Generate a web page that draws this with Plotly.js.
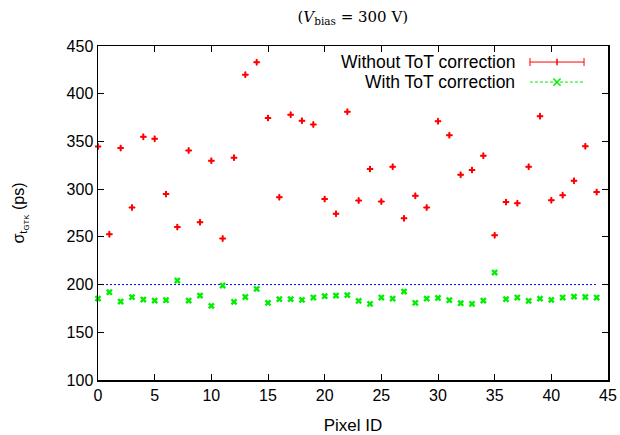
<!DOCTYPE html>
<html>
<head>
<meta charset="utf-8">
<script src="https://cdn.plot.ly/plotly-3.0.1.min.js"></script>
<style>html,body{margin:0;padding:0;background:#fff;}#chart{width:620px;height:435px;}</style>
</head>
<body>
<div id="chart"></div>
<script>
var pixelId = [0,1,2,3,4,5,6,7,8,9,10,11,12,13,14,15,16,17,18,19,20,21,22,23,24,25,26,27,28,29,30,31,32,33,34,35,36,37,38,39,40,41,42,43,44];
var withoutToT = [344.6,252.8,343,280.7,354.8,352.7,294.8,260.2,340.5,265.4,329.7,248.2,333,420,433,374.5,291.6,378,371.6,367.7,289.6,274.1,381,288,321,287,323.4,269.4,293,280.7,371.2,356.6,315,320,335,251.7,286.4,285.3,323.4,376.5,288.4,293.7,308.7,345,296.9];
var withToT = [185.3,192,182.2,186.8,184.3,183.2,183.6,204.2,183.2,188.5,177.7,199,181.9,187,195.5,180.8,184.7,184.7,184,186.4,187.8,188.5,188.9,182.9,179.8,186.4,185.3,192.7,180.8,185.3,186,183.6,180.5,179.8,183.2,212.6,184.7,186.4,182.9,185.3,184,186.4,187.4,187,186.4];
var refX = [0,44];
var refY = [200,200];
var xTicks = [0,5,10,15,20,25,30,35,40,45];
var yTicks = [100,150,200,250,300,350,400,450];
var legendLabels = ['Without ToT correction','With ToT correction'];

var font = '"Liberation Sans", Arial, sans-serif';

var traces = [
  {x: refX, y: refY, mode: 'lines', line: {color: '#0000ff', width: 1, dash: '2px,2px'}, showlegend: false, hoverinfo: 'skip'},
  {x: pixelId, y: withoutToT, mode: 'markers', marker: {symbol: 'cross', size: 5, color: '#ff0000'},
   error_y: {type: 'constant', value: 3.5, color: '#ff0000', thickness: 1, width: 0},
   error_x: {type: 'constant', value: 0.3, color: '#ff0000', thickness: 1, width: 0},
   showlegend: false, cliponaxis: false},
  {x: pixelId, y: withToT, mode: 'markers', marker: {symbol: 'x', size: 6, color: '#00ee00'}, showlegend: false, cliponaxis: false}
];

var L = 0.847, R = 0.953, M = 0.9, y1 = 0.952, y2 = 0.892;
var shapes = [
  {type:'line', xref:'paper', yref:'paper', x0:L, x1:R, y0:y1, y1:y1, line:{color:'#ff0000', width:1}},
  {type:'line', xref:'paper', yref:'paper', x0:L, x1:L, y0:y1-0.012, y1:y1+0.012, line:{color:'#ff0000', width:1}},
  {type:'line', xref:'paper', yref:'paper', x0:R, x1:R, y0:y1-0.012, y1:y1+0.012, line:{color:'#ff0000', width:1}},
  {type:'line', xref:'paper', yref:'paper', x0:M, x1:M, y0:y1-0.01, y1:y1+0.01, line:{color:'#ff0000', width:1.5}},
  {type:'line', xref:'paper', yref:'paper', x0:L, x1:R, y0:y2, y1:y2, line:{color:'#00ee00', width:1, dash:'3px,2px'}},
  {type:'line', xref:'paper', yref:'paper', x0:M-0.007, x1:M+0.007, y0:y2-0.011, y1:y2+0.011, line:{color:'#00ee00', width:1.5}},
  {type:'line', xref:'paper', yref:'paper', x0:M-0.007, x1:M+0.007, y0:y2+0.011, y1:y2-0.011, line:{color:'#00ee00', width:1.5}}
];

var layout = {
  width: 620, height: 435,
  margin: {l: 98, r: 12, t: 46, b: 55},
  paper_bgcolor: '#fff', plot_bgcolor: '#fff',
  font: {family: font, size: 16, color: '#000'},
  title: {text: '(<i>V</i><sub>bias</sub> = 300 V)', font: {family: '"DejaVu Serif", "Liberation Serif", serif', size: 15}, x: 0.569, xanchor: 'center', y: 0.962, yanchor: 'middle'},
  xaxis: {range: [0,45], tickvals: xTicks, ticktext: xTicks.map(String), ticks: 'inside', ticklen: 6, tickwidth: 1, tickcolor: '#000',
          showline: true, linecolor: '#000', linewidth: 1.5, mirror: 'ticks', showgrid: false, zeroline: false,
          title: {text: 'Pixel ID', font: {size: 17}, standoff: 20}},
  yaxis: {range: [100,450], tickvals: yTicks, ticktext: yTicks.map(String), ticks: 'inside', ticklen: 6, tickwidth: 1, tickcolor: '#000',
          showline: true, linecolor: '#000', linewidth: 1.5, mirror: 'ticks', showgrid: false, zeroline: false,
          title: {text: 'σ<sub>t<sub>GTK</sub></sub> (ps)', font: {size: 16}, standoff: 38}},
  shapes: shapes,
  annotations: [
    {xref:'paper', yref:'paper', x:0.822, y:y1, xanchor:'right', yanchor:'middle', text: legendLabels[0], showarrow:false, font:{size:17.5}},
    {xref:'paper', yref:'paper', x:0.822, y:y2, xanchor:'right', yanchor:'middle', text: legendLabels[1], showarrow:false, font:{size:17.5}}
  ],
  showlegend: false
};

Plotly.newPlot('chart', traces, layout, {displayModeBar: false, staticPlot: true});
</script>
</body>
</html>
